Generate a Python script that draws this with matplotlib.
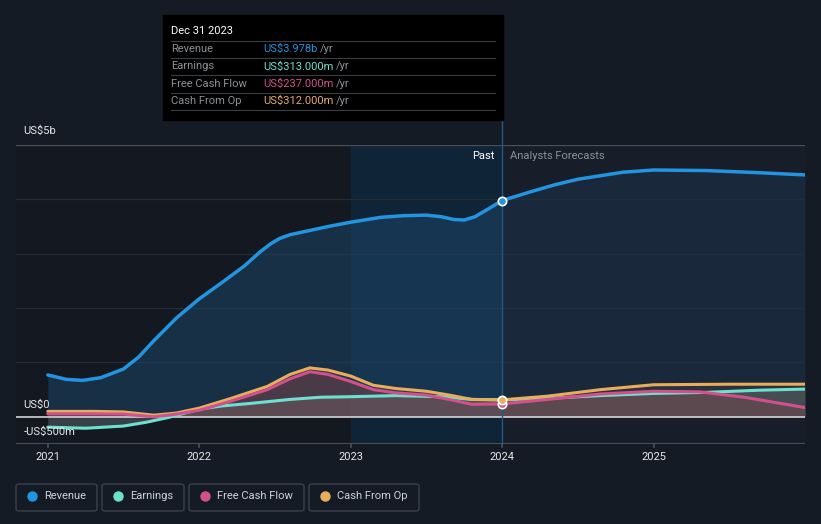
import matplotlib.pyplot as plt
from matplotlib.patches import FancyBboxPatch, Rectangle

plt.rcParams['font.family'] = ['Roboto', 'DejaVu Sans']

# data, US$ billions, x in decimal years
rev_x = [2021.0, 2021.12, 2021.23, 2021.35, 2021.5, 2021.6, 2021.7, 2021.85, 2022.0, 2022.15,
         2022.3, 2022.4, 2022.47, 2022.53, 2022.6, 2022.7, 2022.85, 2023.0, 2023.2, 2023.35,
         2023.5, 2023.6, 2023.68, 2023.75, 2023.82, 2023.9, 2024.0]
rev_y = [0.77, 0.69, 0.67, 0.72, 0.88, 1.10, 1.40, 1.82, 2.17, 2.47,
         2.78, 3.03, 3.18, 3.28, 3.35, 3.41, 3.50, 3.58, 3.67, 3.70,
         3.71, 3.68, 3.63, 3.62, 3.68, 3.81, 3.978]
rev_fx = [2024.0, 2024.2, 2024.35, 2024.5, 2024.8, 2025.0, 2025.35, 2025.7, 2026.0]
rev_fy = [3.978, 4.15, 4.27, 4.37, 4.50, 4.54, 4.53, 4.49, 4.45]

earn_x = [2021.0, 2021.25, 2021.5, 2021.65, 2021.8, 2022.0, 2022.15, 2022.35, 2022.6, 2022.8,
          2023.0, 2023.3, 2023.6, 2023.8, 2024.0]
earn_y = [-0.19, -0.21, -0.17, -0.10, -0.01, 0.14, 0.20, 0.25, 0.32, 0.36,
          0.37, 0.39, 0.37, 0.32, 0.313]
earn_fx = [2024.0, 2024.3, 2024.65, 2025.0, 2025.35, 2025.7, 2026.0]
earn_fy = [0.313, 0.34, 0.39, 0.43, 0.45, 0.49, 0.51]

fcf_x = [2021.0, 2021.3, 2021.5, 2021.7, 2021.85, 2022.0, 2022.2, 2022.45, 2022.6, 2022.73,
         2022.85, 2023.0, 2023.15, 2023.3, 2023.5, 2023.65, 2023.8, 2024.0]
fcf_y = [0.055, 0.055, 0.05, 0.0, 0.05, 0.12, 0.28, 0.50, 0.70, 0.83,
         0.78, 0.65, 0.50, 0.44, 0.40, 0.32, 0.23, 0.237]
fcf_fx = [2024.0, 2024.3, 2024.65, 2025.0, 2025.3, 2025.6, 2026.0]
fcf_fy = [0.237, 0.32, 0.42, 0.47, 0.46, 0.36, 0.17]

cfo_x = [2021.0, 2021.3, 2021.5, 2021.7, 2021.85, 2022.0, 2022.2, 2022.45, 2022.6, 2022.73,
         2022.85, 2023.0, 2023.15, 2023.3, 2023.5, 2023.65, 2023.8, 2024.0]
cfo_y = [0.10, 0.10, 0.09, 0.03, 0.07, 0.16, 0.33, 0.56, 0.78, 0.90,
         0.86, 0.75, 0.58, 0.52, 0.47, 0.40, 0.32, 0.312]
cfo_fx = [2024.0, 2024.3, 2024.65, 2025.0, 2025.5, 2026.0]
cfo_fy = [0.312, 0.38, 0.50, 0.59, 0.60, 0.60]

years = [2021, 2022, 2023, 2024, 2025]
legend_names = ['Revenue', 'Earnings', 'Free Cash Flow', 'Cash From Op']

BG = '#151b24'
C_REV = '#2394df'
C_EARN = '#6ee0cf'
C_FCF = '#d2508c'
C_CFO = '#e8ad5c'

fig = plt.figure(figsize=(8.21, 5.24), dpi=100)
fig.patch.set_facecolor(BG)
ax = fig.add_axes([16 / 821, 80 / 524, 789 / 821, 299 / 524])
ax.set_facecolor('#141921')
ax.set_xlim(2020.79, 2026.0)
ax.set_ylim(-0.5, 5.0)
for s in ax.spines.values():
    s.set_visible(False)
ax.set_xticks([])
ax.set_yticks([])

# highlighted last year of the past
ax.axvspan(2023.0, 2024.0, color='#10263a', alpha=0.9, lw=0, zorder=0)
ax.axvspan(2024.0, 2026.0, color='#171e29', lw=0, zorder=0)

# gridlines
for g in [1, 2, 3, 4]:
    ax.axhline(g, color='#252c36', lw=0.9, zorder=1)
ax.axhline(5, color='#4a505a', lw=0.9, zorder=1)
ax.axhline(-0.5, color='#4a505a', lw=1.5, zorder=1)

# revenue area
ax.fill_between(rev_x, rev_y, 0, color='#1b4466', alpha=0.55, lw=0, zorder=2)
ax.fill_between(rev_fx, rev_fy, 0, color='#1c3047', alpha=0.6, lw=0, zorder=2)
# other areas
ax.fill_between(earn_x + earn_fx, earn_y + earn_fy, 0, color='#7a8a8c', alpha=0.35, lw=0, zorder=2)
ax.fill_between(fcf_x + fcf_fx, fcf_y + fcf_fy, 0, color='#8a3a55', alpha=0.35, lw=0, zorder=2)
ax.fill_between(cfo_x + cfo_fx, cfo_y + cfo_fy, 0, color='#7a5a3a', alpha=0.2, lw=0, zorder=2)

ax.axhline(0, color='#d0d3d8', lw=1.2, zorder=3)

kw = dict(lw=2.2, solid_capstyle='round', solid_joinstyle='round', zorder=4)
ax.plot(earn_x + earn_fx, earn_y + earn_fy, color=C_EARN, **kw)
ax.plot(cfo_x + cfo_fx, cfo_y + cfo_fy, color=C_CFO, **kw)
ax.plot(fcf_x + fcf_fx, fcf_y + fcf_fy, color=C_FCF, **kw)
kw['lw'] = 2.5
ax.plot(rev_x + rev_fx, rev_y + rev_fy, color=C_REV, **kw)

# markers at Dec 31 2023
ax.plot(rev_x[-1], rev_y[-1], 'o', ms=6, mfc=C_REV, mec='white', mew=1.2, zorder=6)
ax.plot(fcf_x[-1], fcf_y[-1], 'o', ms=6, mfc=C_FCF, mec='white', mew=1.2, zorder=6)
ax.plot(cfo_x[-1], cfo_y[-1], 'o', ms=6, mfc=C_CFO, mec='white', mew=1.2, zorder=6)

# y labels
ax.text(2020.84, 5.26, 'US$5b', color='#e6e8ea', fontsize=8, va='center', ha='left', clip_on=False)
ax.text(2020.84, 0.22, 'US$0', color='#e6e8ea', fontsize=8, va='center', ha='left', zorder=5)
ax.text(2020.84, -0.28, '-US$500m', color='#e6e8ea', fontsize=8, va='center', ha='left', zorder=5)

# x ticks
for yr in years:
    ax.plot([yr, yr], [-0.5, -0.55], color='#4a505a', lw=1.2, clip_on=False)
    ax.text(yr, -0.735, str(yr), color='#e6e8ea', fontsize=8, ha='center', va='center')

ax.text(2023.95, 4.8, 'Past', color='white', fontsize=8, ha='right', va='center')
ax.text(2024.05, 4.8, 'Analysts Forecasts', color='#8b9097', fontsize=8, ha='left', va='center')

# vertical line at current date, reaching the tooltip
ax.plot([2024.0, 2024.0], [-0.5, 5.45], color='#1f5a85', lw=1, clip_on=False, zorder=5)

# tooltip
fig.patches.append(Rectangle((163 / 821, 1 - 120 / 524), 340 / 821, 105 / 524,
                             transform=fig.transFigure, color='black', zorder=10))
fig.text(171 / 821, 1 - 31 / 524, 'Dec 31 2023', color='white', fontsize=8, va='center', zorder=11)
rows = [('Revenue', 'US$3.978b', C_REV), ('Earnings', 'US$313.000m', C_EARN),
        ('Free Cash Flow', 'US$237.000m', C_FCF), ('Cash From Op', 'US$312.000m', C_CFO)]
value_texts = []
for i, (lab, val, col) in enumerate(rows):
    yy = 1 - (49 + i * 17.4) / 524
    ly = 1 - (40.5 + i * 17.4) / 524
    fig.add_artist(plt.Line2D([171 / 821, 495 / 821], [ly, ly], color='#3a3d42', lw=0.8, zorder=11))
    fig.text(171 / 821, yy, lab, color='#8d9196', fontsize=8, va='center', zorder=11)
    value_texts.append(fig.text(263 / 821, yy, val, color=col, fontsize=8, va='center', zorder=11))
ly = 1 - (40.5 + 4 * 17.4) / 524
fig.add_artist(plt.Line2D([171 / 821, 495 / 821], [ly, ly], color='#3a3d42', lw=0.8, zorder=11))
fig.canvas.draw()
r = fig.canvas.get_renderer()
for i, tt in enumerate(value_texts):
    yy = 1 - (49 + i * 17.4) / 524
    bb = tt.get_window_extent(r)
    fig.text((bb.x1 + 3) / 821, yy, '/yr', color='#8d9196', fontsize=8, va='center', zorder=11)

# legend boxes
boxes = [(16, 97), (102, 184), (189, 304), (309, 419)]
cols = [C_REV, C_EARN, C_FCF, C_CFO]
for (x0, x1), name, col in zip(boxes, legend_names, cols):
    fig.patches.append(FancyBboxPatch((x0 / 821, 1 - 511 / 524), (x1 - x0) / 821, 27 / 524,
                                      boxstyle='round,pad=0,rounding_size=0.004',
                                      transform=fig.transFigure, fc=BG, ec='#3b414b', lw=1))
    fig.add_artist(plt.Line2D([(x0 + 16) / 821], [1 - 496 / 524], marker='o', ms=6.5,
                              color=col, mec=col, ls=''))
    fig.text((x0 + 28) / 821, 1 - 496 / 524, name, color='#cfd3d8', fontsize=8, va='center')

fig.savefig('out.png', dpi=100, facecolor=BG)
